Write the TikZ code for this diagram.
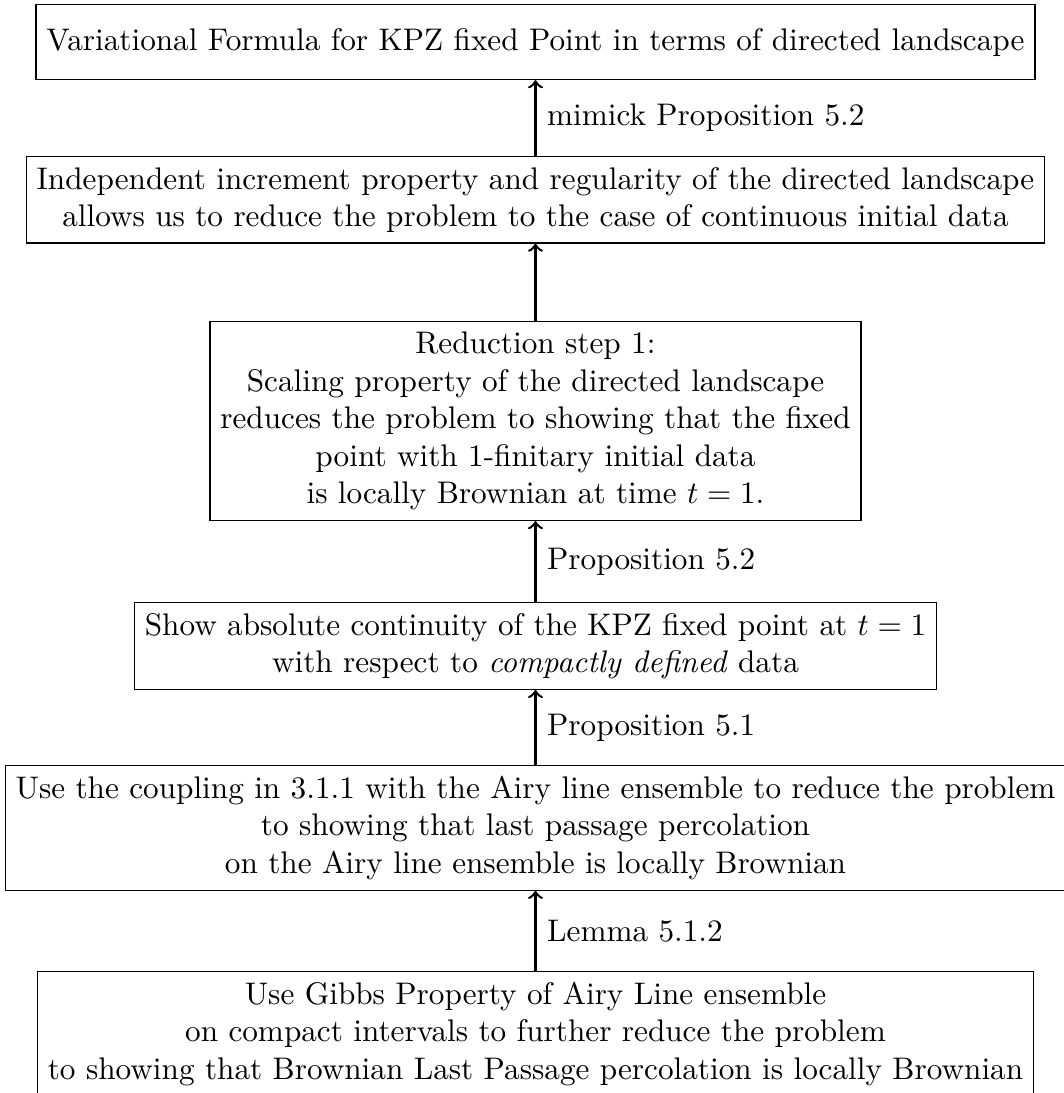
\documentclass[tikz,border=0pt]{standalone}
\usetikzlibrary{calc}
\begin{document}
\begin{tikzpicture}[x=0.3202pt,y=-0.3202pt,
  box/.style={draw, align=center, line width=0.4pt, anchor=north},
  arr/.style={->, thick},
  lab/.style={midway, right}]
\useasboundingbox (0,0) rectangle (1063,1093);
\node[box, minimum height=24pt] (b1) at (535.5,4) {Variational Formula for KPZ fixed Point in terms of directed landscape};
\node[box] (b2) at (535.5,156) {Independent increment property and regularity of the directed landscape\\allows us to reduce the problem to the case of continuous initial data};
\node[box] (b3) at (535.5,321) {Reduction step 1:\\Scaling property of the directed landscape\\reduces the problem to showing that the fixed\\point with 1-finitary initial data\\is locally Brownian at time $t=1$.};
\node[box] (b4) at (535.5,602) {Show absolute continuity of the KPZ fixed point at $t=1$\\with respect to \emph{compactly defined} data};
\node[box] (b5) at (535.5,765) {Use the coupling in 3.1.1 with the Airy line ensemble to reduce the problem\\to showing that last passage percolation\\on the Airy line ensemble is locally Brownian};
\node[box] (b6) at (535.5,971) {Use Gibbs Property of Airy Line ensemble\\on compact intervals to further reduce the problem\\to showing that Brownian Last Passage percolation is locally Brownian};
\draw[arr] (b2) -- node[lab] {mimick Proposition 5.2} (b1);
\draw[arr] (b3) -- (b2);
\draw[arr] (b4) -- node[lab] {Proposition 5.2} (b3);
\draw[arr] (b5) -- node[lab] {Proposition 5.1} (b4);
\draw[arr] (b6) -- node[lab] {Lemma 5.1.2} (b5);
\end{tikzpicture}
\end{document}
